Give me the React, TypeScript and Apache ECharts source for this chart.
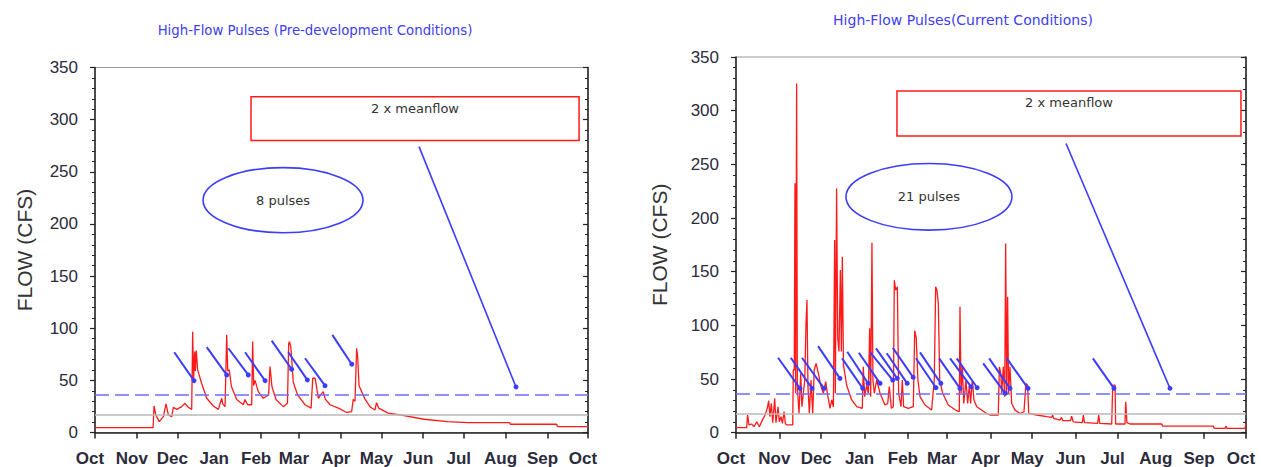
import React, { useEffect, useRef } from "react";
import * as echarts from "echarts";

// ---------- axis definitions ----------
const monthNames = ["Oct", "Nov", "Dec", "Jan", "Feb", "Mar", "Apr", "May", "Jun", "Jul", "Aug", "Sep", "Oct"];
const monthStartDays = [0, 31, 61, 92, 123, 151, 182, 212, 243, 273, 304, 335, 365];
const flowTicks = [0, 350, 50];

// ---------- titles / labels ----------
const preTitle = "High-Flow Pulses (Pre-development Conditions)";
const curTitle = "High-Flow Pulses(Current Conditions)";
const yName = "FLOW (CFS)";
const boxLabel = "2 x meanflow";
const prePulseLabel = "8 pulses";
const curPulseLabel = "21 pulses";

// ---------- pre-development daily flow (day from Oct 1, cfs) ----------
const preFlow: [number, number][] = [
  [0, 4.6], [43, 4.6], [43.7, 25.5], [45, 16.8], [47.6, 10.4], [50.6, 15.2], [52.6, 27.4], [54.3, 16.8],
  [56.8, 15.2], [58, 24.2], [60.5, 22.2], [64.2, 24.8], [66.6, 28], [69, 24.2], [71.6, 22.2], [72.3, 96.6],
  [73, 50], [73.8, 77.6], [74.3, 59], [75, 78.7], [76, 60], [79, 47], [82.7, 32.8], [87.6, 25.4],
  [91.3, 22.2], [93.8, 32.8], [94.6, 27.4], [96.3, 24.8], [97.5, 93.6], [98.3, 59], [99.4, 60], [101, 44],
  [104.9, 31.7], [109.8, 26.6], [111, 31.7], [113, 26.6], [116, 26.6], [116.7, 87.2], [117.5, 44.9],
  [118.5, 50], [120.9, 39.2], [124.6, 32.8], [128.5, 36], [129.6, 63.2], [131, 44], [134, 31.7],
  [139.4, 24.8], [142.5, 28], [143.4, 85.6], [144, 87], [145, 82], [146.8, 48.2], [150, 36], [155.5, 26.6],
  [160, 23.4], [161.2, 52], [163, 52], [165.4, 32.8], [167, 36], [169, 39.2], [170.5, 32], [174, 26.6],
  [180.2, 23.4], [186.3, 19.2], [190, 20], [191.2, 31.7], [192.5, 30], [193.7, 80.8], [194.5, 72],
  [195.5, 44.9], [200, 31.7], [204, 24.2], [207.3, 21.6], [208.4, 28.6], [210, 23.4], [217, 18.6],
  [225.8, 16.8], [243.6, 12.7], [261, 10.4], [276, 9.4], [307, 9.4], [307.5, 7.9], [341.8, 7.9],
  [342.3, 5.6], [365, 5.6],
];

// ---------- current conditions daily flow ----------
const curFlow: [number, number][] = [
  [0, 4.7], [7.6, 4.7], [8.3, 16.5], [9.3, 7.2], [11.2, 8.1], [12.9, 5.6], [14.8, 10.2], [16.7, 5.6],
  [19.1, 12.4], [20.8, 16.5], [22.4, 22.7], [23.4, 29.8], [24.3, 14.9], [25.3, 27.3], [26.3, 9.3],
  [27.7, 32], [28.6, 9.3], [30.1, 24.2], [31, 10.2], [32.2, 14.9], [33.2, 8.7], [34.4, 19.7], [35.3, 8.7],
  [36.3, 7.2], [40.6, 7.2], [41, 58.4], [41.7, 58.4], [42.2, 232.5], [42.7, 36.7], [43.4, 325.3],
  [43.9, 42.9], [45.1, 17.9], [46.3, 55.2], [47.2, 24.2], [48.2, 36.7], [49.2, 49.1], [50.1, 101.8],
  [50.8, 123.5], [51.5, 42.9], [52.5, 17.9], [53.7, 49.1], [54.9, 17.9], [56, 58.4], [57.3, 64.6],
  [59, 55], [60.6, 44.2], [62.5, 36.7], [64.2, 47.5], [65.4, 36.7], [67.3, 22.7], [68.5, 30.5],
  [69.7, 24.2], [70.6, 179.4], [71.1, 36.7], [72, 227.5], [72.8, 88.3], [73.7, 75.6], [74.7, 151.5],
  [75.4, 75.6], [76.1, 163.9], [76.9, 63.2], [79.2, 44.2], [82.8, 30.5], [86.4, 24.2], [90.4, 22.7],
  [91.1, 61.4], [92.1, 33.6], [93.5, 44.2], [94.7, 36.7], [95.7, 97.2], [96.4, 33.6], [97.3, 176.9],
  [98, 49.1], [99, 36.7], [100.7, 49.1], [103.1, 36.7], [106.6, 25.8], [108.6, 27.3], [109.7, 42.9],
  [111.2, 22.7], [112.6, 24.2], [113.3, 142.1], [114.3, 132.8], [115.5, 135.9], [116.4, 36.7],
  [118.1, 24.2], [119, 49.1], [120, 24.2], [123.3, 22.7], [126.9, 24.2], [127.9, 95], [129, 88.3],
  [130.2, 49.1], [131.7, 33.6], [135.3, 25.8], [140, 21.1], [141.9, 49.1], [142.9, 135.9], [143.8, 132.8],
  [144.8, 120.4], [145.8, 49.1], [147.9, 36.7], [151.9, 25.8], [157.9, 20.5], [159.8, 19.5], [160.3, 117.3],
  [161.1, 36.7], [162, 61.4], [163, 27.3], [164.6, 49.1], [165.8, 27.3], [167, 44.2], [167.9, 27.3],
  [169.1, 49.1], [170.3, 30.5], [172.3, 24.2], [179.4, 17.9], [181.8, 16.5], [187.7, 16.5], [188.5, 61.4],
  [189.5, 55.2], [190.2, 36.5], [191.3, 61.4], [192.3, 33.4], [193, 176.3], [193.7, 36.5], [194.4, 126.6],
  [195.1, 36.5], [196.1, 61.4], [197.3, 27.2], [199.7, 21], [203.3, 17.9], [206.1, 19.5], [207.5, 45.9],
  [208.7, 44.3], [209.5, 17.9], [215.2, 16.5], [222.4, 14.9], [226, 14.3], [226.6, 16.5], [227.3, 13.3],
  [231.9, 11.8], [233, 14.3], [233.8, 11.2], [239.5, 11.2], [240.2, 15.5], [241.4, 10], [247.9, 9.3],
  [248.6, 16.5], [249.4, 9.3], [258.8, 8.7], [259.6, 16.5], [260.3, 8.7], [268.9, 8.1], [269.6, 44.3],
  [271.3, 44.3], [271.7, 8.1], [278.4, 8.1], [278.9, 28.9], [279.8, 9.3], [282, 8.1], [304.7, 8.1],
  [305.2, 6.2], [341.6, 6.2], [342.3, 4.0], [350, 4.0], [350.7, 6.2], [351.4, 4.0], [364.3, 4.0], [365, 8.7],
];

// ---------- reference flows ----------
const preTwiceMean = 36.5;
const preBaseFlow = 17.3;
const curTwiceMean = 36;
const curBaseFlow = 17.4;

// ---------- pulse arrows [startDay, startFlow, endDay, endFlow] ----------
const preArrows: number[][] = [
  [58.7, 77.0, 73.3, 49.7], [82.7, 81.8, 97.5, 55.2], [98.7, 80.8, 113.5, 55.2], [111.1, 77.0, 125.9, 49.7],
  [130.8, 88.1, 145.6, 60.7], [143.1, 77.0, 157.2, 50.4], [155.5, 71.2, 170.3, 44.9], [175.7, 93.6, 190.1, 65.5],
];
const curArrows: number[][] = [
  [30.1, 69.8, 45.8, 41.3], [39.2, 69.8, 54.4, 41.3], [47.2, 69.8, 63, 41.3], [58.7, 80.7, 74.4, 50.6],
  [75.9, 69.3, 90.7, 41.3], [79.6, 75.4, 94.5, 46], [87.9, 74.5, 103.1, 46], [96.2, 74.5, 112.2, 49],
  [100.2, 78.6, 115.4, 50.6], [107.9, 74, 122.5, 46], [112.2, 79.1, 126.8, 51.6], [128.8, 69.3, 143.1, 41.9],
  [131.7, 74.8, 146.6, 46], [145.4, 69.3, 160.3, 41.3], [153.2, 69.3, 168.3, 42.7], [158, 69.3, 172.6, 41.9],
  [176.9, 64.6, 192.7, 36.7], [181.2, 69.3, 196.1, 41.3], [193.8, 69.3, 209, 41.3], [255.4, 69.3, 270.5, 41.3],
];
const prePointer = [239.9, 274.1, 311.7, 43.7];
const curPointer = [236.2, 269.4, 310.6, 41.3];

// ---------- annotation boxes in data space [day1, flow1, day2, flow2] ----------
const preBox = [115.5, 322, 358.4, 279.9];
const curBox = [115.2, 318.4, 361.4, 276.5];
const preEllipse = [80, 254, 198.4, 191.6];
const curEllipse = [78.7, 250.8, 197.5, 188.7];

const RED = "#ff1a1a";
const BLUE = "#3c3cff";
const AXIS = "#222";
const LABEL = "#2b2b3b";

function xAxisFor(gridIndex: number) {
  return {
    type: "value",
    gridIndex,
    min: 0,
    max: 365,
    splitLine: { show: false },
    axisLine: { show: true, onZero: false, lineStyle: { color: AXIS, width: 1.5 } },
    axisTick: { show: true, customValues: monthStartDays, length: 6, lineStyle: { color: AXIS, width: 1.5 } },
    axisLabel: {
      customValues: monthStartDays,
      formatter: (v: number) => monthNames[monthStartDays.indexOf(Math.round(v))] ?? "",
      fontFamily: "Liberation Sans",
      fontSize: 17,
      fontWeight: "bold",
      color: LABEL,
      margin: 17,
      padding: [0, 10, 0, 0],
    },
  };
}

function yAxesFor(gridIndex: number, nameGap: number) {
  return [
    {
      type: "value",
      gridIndex,
      position: "left",
      min: flowTicks[0],
      max: flowTicks[1],
      interval: flowTicks[2],
      name: yName,
      nameLocation: "middle",
      nameGap,
      nameTextStyle: { fontFamily: "Liberation Sans", fontSize: 21, color: "#333" },
      splitLine: { show: false },
      axisLine: { show: true, onZero: false, lineStyle: { color: AXIS, width: 1.5 } },
      axisTick: { show: true, length: 5, lineStyle: { color: AXIS, width: 1.2 } },
      minorTick: { show: true, splitNumber: 5, length: 3, lineStyle: { color: AXIS, width: 1 } },
      axisLabel: { fontFamily: "Liberation Sans", fontSize: 17, color: LABEL, margin: 17 },
    },
    {
      type: "value",
      gridIndex,
      position: "right",
      min: flowTicks[0],
      max: flowTicks[1],
      interval: flowTicks[2],
      splitLine: { show: false },
      axisLine: { show: true, onZero: false, lineStyle: { color: AXIS, width: 1.5 } },
      axisTick: { show: true, inside: true, length: 5, lineStyle: { color: AXIS, width: 1.2 } },
      minorTick: { show: true, splitNumber: 5, length: 3, lineStyle: { color: AXIS, width: 1 } },
      axisLabel: { show: false },
    },
  ];
}

function seriesFor(idx: number, flow: [number, number][], twiceMean: number, base: number, arrows: number[][], pointer: number[]) {
  const yAxisIndex = idx * 2;
  return [
    {
      type: "line",
      xAxisIndex: idx,
      yAxisIndex,
      data: flow,
      showSymbol: false,
      symbol: "none",
      lineStyle: { color: RED, width: 1.3 },
      z: 3,
      markLine: {
        silent: true,
        symbol: "none",
        label: { show: false },
        data: [
          { yAxis: twiceMean, lineStyle: { color: "#6b6bff", width: 1.6, type: [14, 6] } },
          { yAxis: base, lineStyle: { color: "#b8b8b8", width: 1.5, type: "solid" } },
        ],
      },
    },
    {
      type: "lines",
      coordinateSystem: "cartesian2d",
      xAxisIndex: idx,
      yAxisIndex,
      symbol: ["none", "circle"],
      symbolSize: 5,
      lineStyle: { color: BLUE, width: 2, opacity: 1, curveness: 0 },
      z: 5,
      data: arrows.map((a) => ({ coords: [[a[0], a[1]], [a[2], a[3]]] })),
    },
    {
      type: "lines",
      coordinateSystem: "cartesian2d",
      xAxisIndex: idx,
      yAxisIndex,
      symbol: ["none", "circle"],
      symbolSize: 5,
      lineStyle: { color: BLUE, width: 1.6, opacity: 1, curveness: 0 },
      z: 5,
      data: [{ coords: [[pointer[0], pointer[1]], [pointer[2], pointer[3]]] }],
    },
  ];
}

export default function App() {
  const ref = useRef<HTMLDivElement>(null);
  useEffect(() => {
    if (!ref.current) return;
    const chart = echarts.init(ref.current, null, { renderer: "svg" });
    chart.setOption({
      animation: false,
      backgroundColor: "#ffffff",
      grid: [
        { left: 95, top: 67.5, width: 493, height: 365, show: true, borderColor: "#999", borderWidth: 1 },
        { left: 736, top: 57, width: 510, height: 375.7, show: true, borderColor: "#999", borderWidth: 1 },
      ],
      xAxis: [xAxisFor(0), xAxisFor(1)],
      yAxis: [...yAxesFor(0, 60), ...yAxesFor(1, 66)],
      series: [
        ...seriesFor(0, preFlow, preTwiceMean, preBaseFlow, preArrows, prePointer),
        ...seriesFor(1, curFlow, curTwiceMean, curBaseFlow, curArrows, curPointer),
      ],
    });

    const px = (g: number, d: number, v: number) => chart.convertToPixel({ gridIndex: g }, [d, v]) as number[];
    const annot = (g: number, box: number[], ell: number[], pulses: string) => {
      const a = px(g, box[0], box[1]);
      const b = px(g, box[2], box[3]);
      const e1 = px(g, ell[0], ell[1]);
      const e2 = px(g, ell[2], ell[3]);
      const cx = (e1[0] + e2[0]) / 2;
      const cy = (e1[1] + e2[1]) / 2;
      return [
        {
          type: "rect",
          shape: { x: a[0], y: a[1], width: b[0] - a[0], height: b[1] - a[1] },
          style: { fill: "none", stroke: RED, lineWidth: 1.5 },
          z: 10,
        },
        {
          type: "text",
          x: (a[0] + b[0]) / 2,
          y: a[1] + 12,
          style: { text: boxLabel, align: "center", verticalAlign: "middle", fontFamily: "DejaVu Sans", fontSize: 13, fill: "#333" },
          z: 11,
        },
        {
          type: "ellipse",
          shape: { cx, cy, rx: (e2[0] - e1[0]) / 2, ry: (e2[1] - e1[1]) / 2 },
          style: { fill: "none", stroke: BLUE, lineWidth: 1.6 },
          z: 10,
        },
        {
          type: "text",
          x: cx,
          y: cy,
          style: { text: pulses, align: "center", verticalAlign: "middle", fontFamily: "DejaVu Sans", fontSize: 13, fill: "#333" },
          z: 11,
        },
      ];
    };

    chart.setOption({
      graphic: [
        {
          type: "text",
          x: 315,
          y: 30,
          style: { text: preTitle, align: "center", verticalAlign: "middle", fontFamily: "DejaVu Sans", fontSize: 13.3, fill: "#4040ee" },
        },
        {
          type: "text",
          x: 963,
          y: 20,
          style: { text: curTitle, align: "center", verticalAlign: "middle", fontFamily: "DejaVu Sans", fontSize: 14, fill: "#4040ee" },
        },
        ...annot(0, preBox, preEllipse, prePulseLabel),
        ...annot(1, curBox, curEllipse, curPulseLabel),
      ],
    });

    return () => chart.dispose();
  }, []);
  return <div ref={ref} style={{ position: "absolute", left: 0, top: 0, width: 1261, height: 467 }} />;
}
